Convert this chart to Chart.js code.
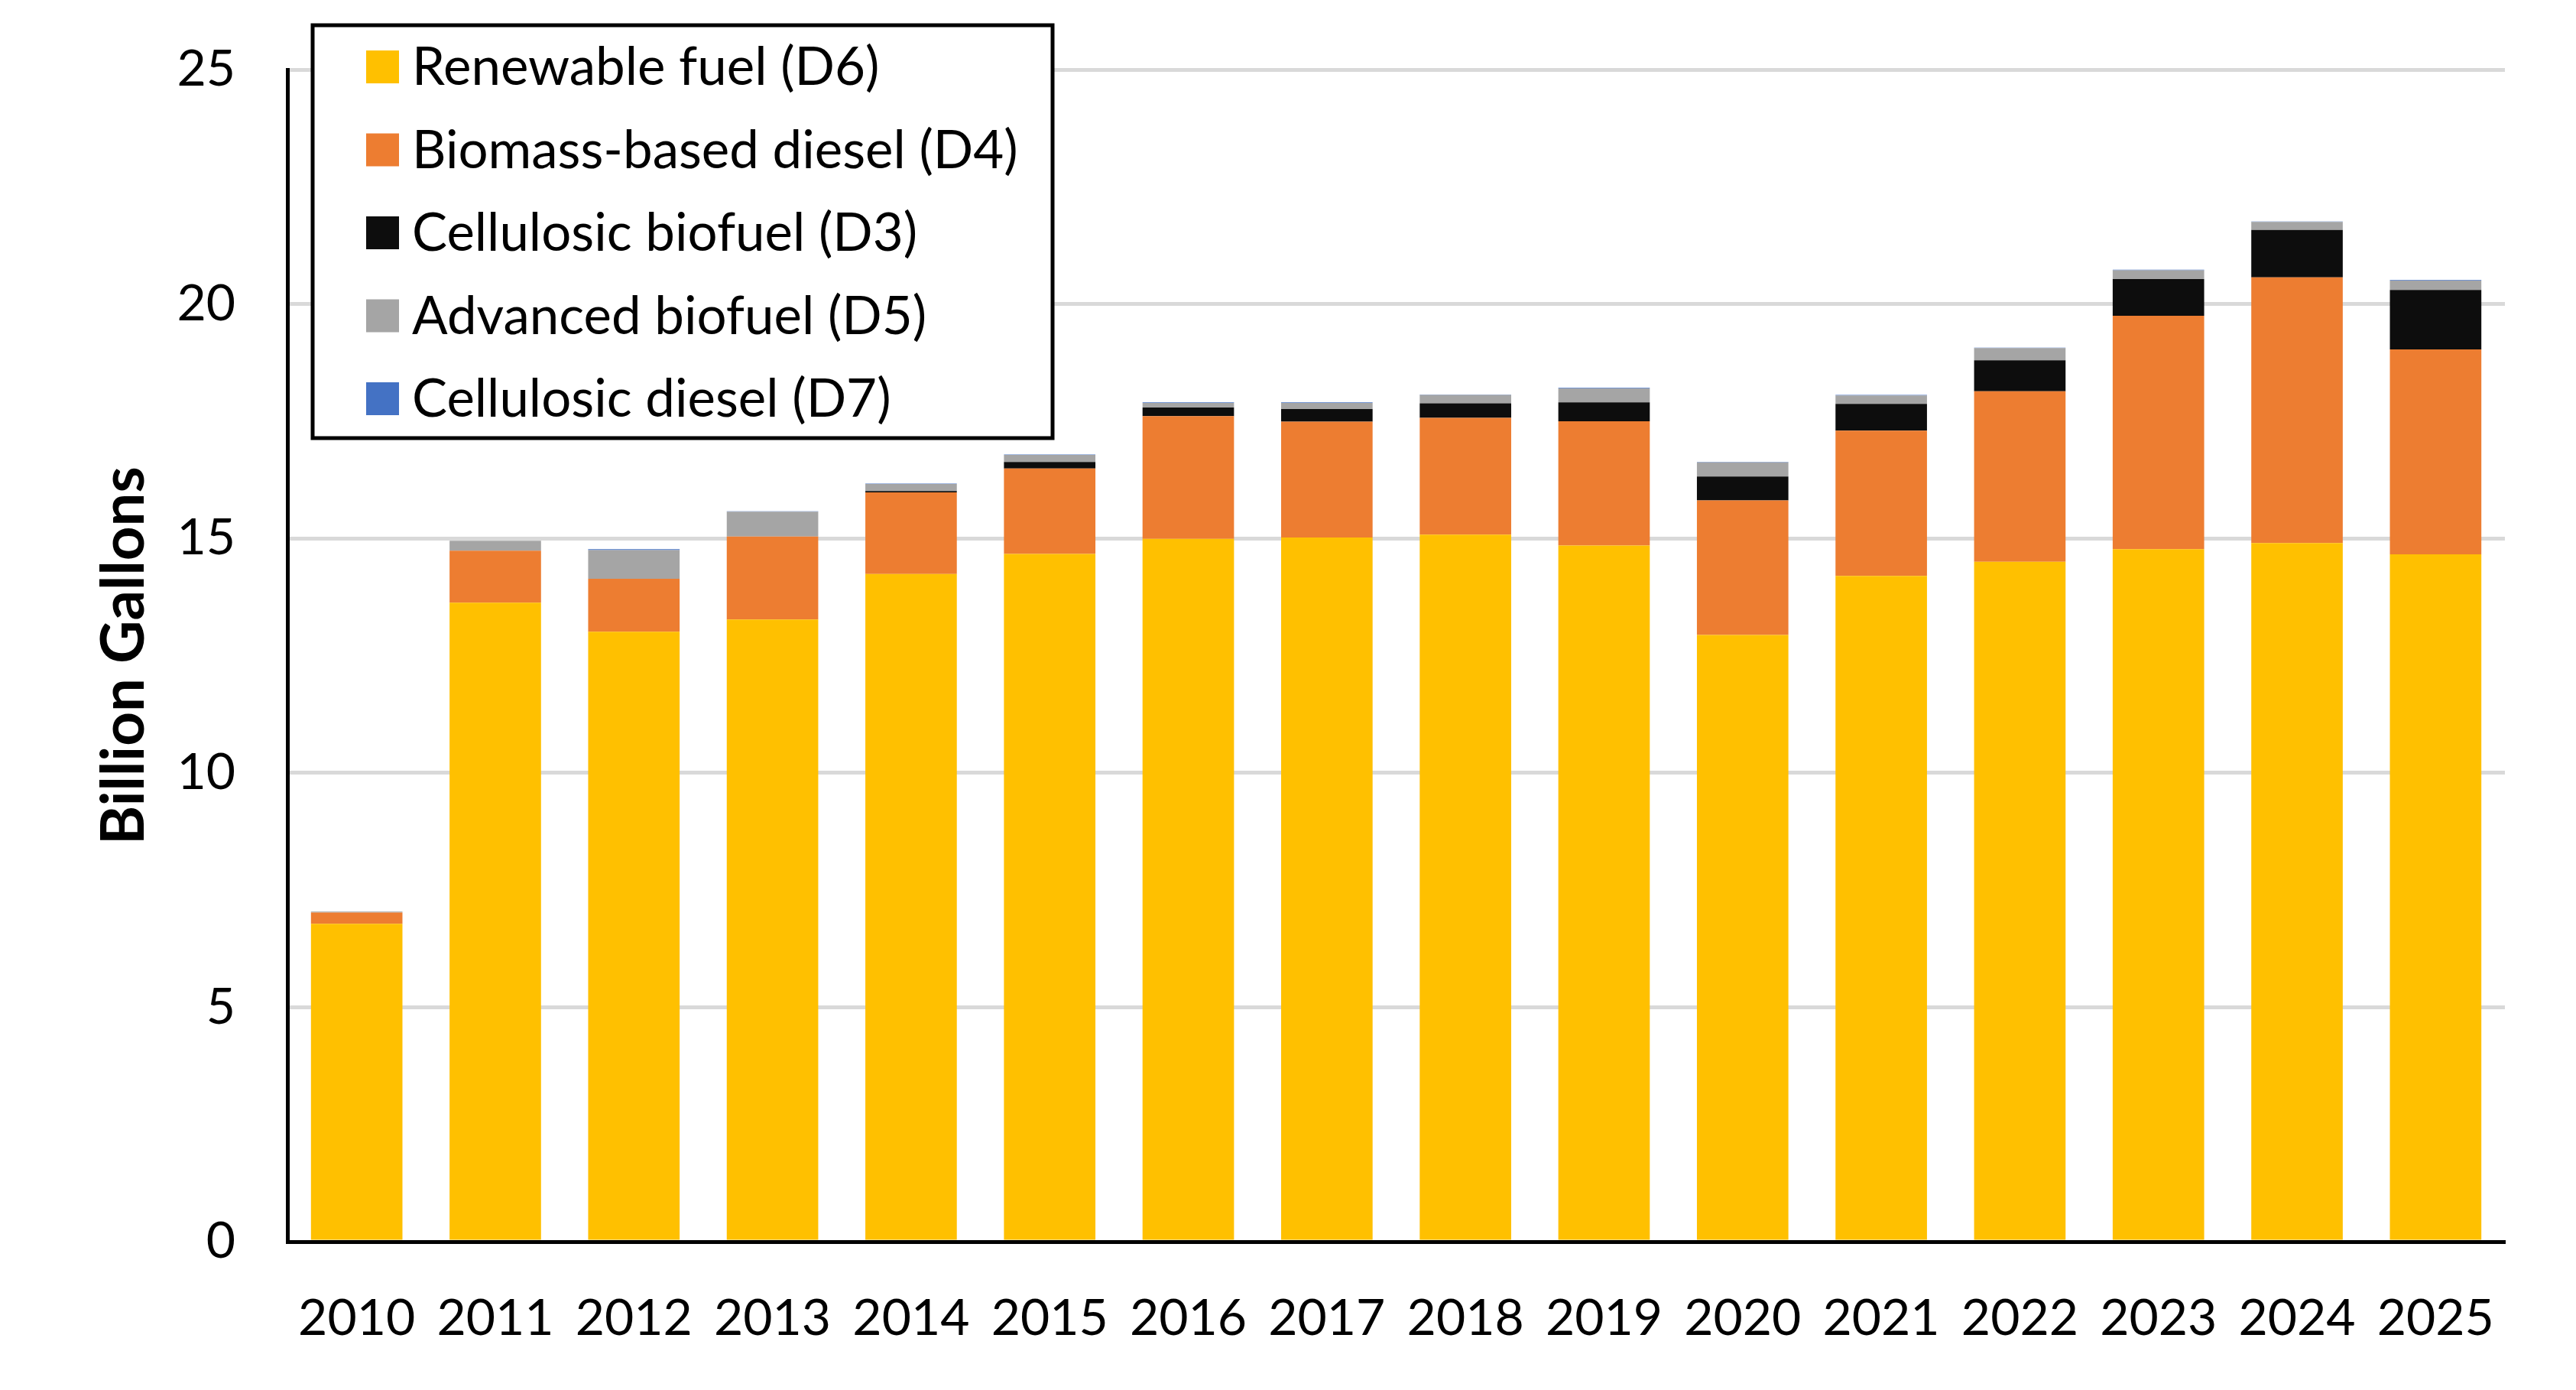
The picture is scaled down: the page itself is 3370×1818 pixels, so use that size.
<!DOCTYPE html>
<html>
<head>
<meta charset="utf-8">
<title>RFS volumes by category</title>
<script src="https://cdn.jsdelivr.net/npm/chart.js@4.4.1/dist/chart.umd.min.js"></script>
<style>
  html, body { margin: 0; padding: 0; background: #fff; }
  #wrap { position: relative; width: 3370px; height: 1818px; }
</style>
</head>
<body>
<div id="wrap"><canvas id="rfsChart"></canvas></div>
<script>
// values, billion gallons
const years = ['2010', '2011', '2012', '2013', '2014', '2015', '2016', '2017',
               '2018', '2019', '2020', '2021', '2022', '2023', '2024', '2025'];
const renewableD6 = [6.78, 13.63, 13.01, 13.27, 14.24, 14.67, 14.99, 15.02,
                     15.08, 14.85, 12.94, 14.20, 14.50, 14.77, 14.90, 14.66];
const biomassD4 = [0.24, 1.11, 1.13, 1.77, 1.74, 1.82, 2.62, 2.47,
                   2.49, 2.65, 2.87, 3.10, 3.64, 4.98, 5.67, 4.37];
const cellulosicD3 = [0, 0, 0, 0, 0.03, 0.14, 0.18, 0.27,
                      0.31, 0.40, 0.51, 0.57, 0.66, 0.78, 1.01, 1.27];
const advancedD5 = [0.02, 0.21, 0.61, 0.53, 0.15, 0.15, 0.10, 0.13,
                    0.18, 0.30, 0.30, 0.18, 0.26, 0.19, 0.17, 0.20];
const cellDieselD7 = [0, 0, 0.02, 0.01, 0.01, 0.01, 0.01, 0.01,
                      0.01, 0.01, 0.01, 0.01, 0.01, 0.01, 0.01, 0.01];
const yMax = 25;
const yStep = 5;

const FONT = 'Lato';

// legend drawn as a framed box over the top-left of the plot
const legendBox = {
  id: 'legendBox',
  afterDraw(chart) {
    const ctx = chart.ctx;
    const x = 409, y = 33, w = 968, h = 540;
    ctx.save();
    ctx.fillStyle = '#fff';
    ctx.fillRect(x, y, w, h);
    ctx.lineWidth = 5;
    ctx.strokeStyle = '#000';
    ctx.strokeRect(x, y, w, h);
    ctx.font = '69px ' + FONT;
    ctx.textBaseline = 'middle';
    chart.data.datasets.forEach((ds, i) => {
      const cy = y + 54 + i * 108.5;
      ctx.fillStyle = ds.backgroundColor;
      ctx.fillRect(x + 70, cy - 21, 43, 43);
      ctx.fillStyle = '#000';
      ctx.fillText(ds.label, x + 130, cy + 2);
    });
    ctx.restore();
  }
};

const ctx = document.getElementById('rfsChart').getContext('2d');
const rfsChart = new Chart(ctx, {
  type: 'bar',
  data: {
    labels: years,
    datasets: [
      { label: 'Renewable fuel (D6)', data: renewableD6, backgroundColor: '#FFC000' },
      { label: 'Biomass-based diesel (D4)', data: biomassD4, backgroundColor: '#ED7D31' },
      { label: 'Cellulosic biofuel (D3)', data: cellulosicD3, backgroundColor: '#0D0D0D' },
      { label: 'Advanced biofuel (D5)', data: advancedD5, backgroundColor: '#A5A5A5' },
      { label: 'Cellulosic diesel (D7)', data: cellDieselD7, backgroundColor: '#4472C4' }
    ]
  },
  options: {
    responsive: true,
    maintainAspectRatio: false,
    animation: false,
    layout: { padding: { top: 91, right: 93, left: 0, bottom: 0 } },
    datasets: {
      bar: { barPercentage: 0.66, categoryPercentage: 1.0, borderWidth: 0 }
    },
    plugins: {
      legend: { display: false },
      tooltip: { enabled: false }
    },
    scales: {
      x: {
        stacked: true,
        grid: { display: false, drawTicks: false },
        border: { display: true, color: '#000', width: 5 },
        ticks: { color: '#000', padding: 61, font: { family: FONT, size: 66 } },
        afterFit(scale) { scale.height = 194; }
      },
      y: {
        stacked: true,
        min: 0,
        max: yMax,
        ticks: {
          stepSize: yStep,
          color: '#000',
          padding: 68,
          font: { family: FONT, size: 66 }
        },
        grid: {
          drawTicks: false,
          lineWidth: 5,
          color: c => (c.tick && c.tick.value === 0 ? 'rgba(0,0,0,0)' : '#D9D9D9')
        },
        border: { display: true, color: '#000', width: 5 },
        title: {
          display: true,
          text: 'Billion Gallons',
          color: '#000',
          padding: { top: 116, bottom: 0 },
          font: { family: FONT, size: 78, weight: 'bold' }
        },
        afterFit(scale) {
          scale.width = 376;
          // keep the label overflow from pushing the plot top down
          scale.paddingTop = 0;
          scale.paddingBottom = 0;
        }
      }
    }
  },
  plugins: [legendBox]
});
</script>
</body>
</html>
